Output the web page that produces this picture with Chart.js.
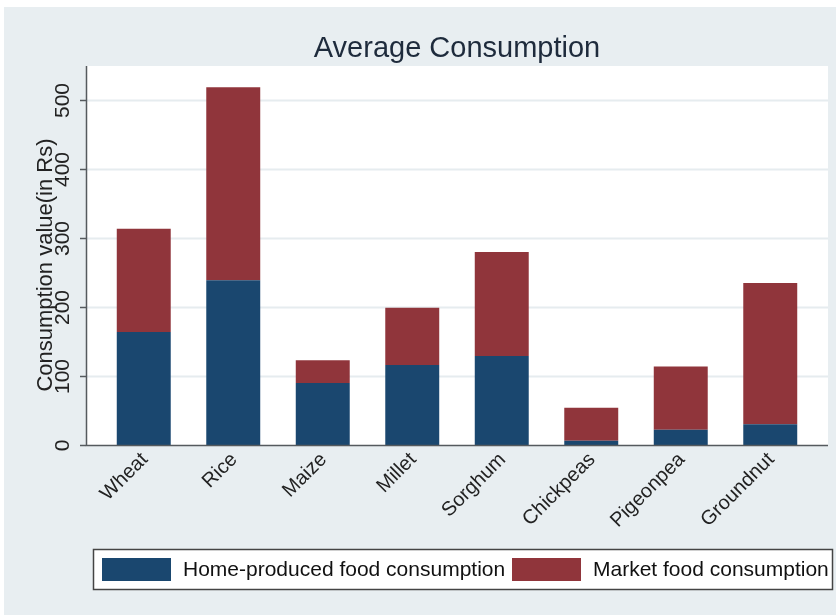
<!DOCTYPE html>
<html>
<head>
<meta charset="utf-8">
<script src="https://cdn.jsdelivr.net/npm/chart.js@4.4.1/dist/chart.umd.min.js"></script>
<style>
    body { margin: 0; background: #ffffff; }
    canvas { display: block; }
</style>
</head>
<body>
<canvas id="grafico" width="836" height="615"></canvas>
<script>
const categorias = ['Wheat', 'Rice', 'Maize', 'Millet', 'Sorghum', 'Chickpeas', 'Pigeonpea', 'Groundnut'];
const casera = [164, 239, 90, 116, 129, 6, 22, 30];
const mercado = [150, 280, 33, 83, 151, 48, 92, 205];
const ticks_y = [0, 100, 200, 300, 400, 500];
const nombres = ['Home-produced food consumption', 'Market food consumption'];
const titulo = 'Average Consumption';
const titulo_y = 'Consumption value(in Rs)';

const AZUL = '#1a476f';
const ROJO = '#90353b';
const FONDO = '#e8eef1';
const FUENTE = '"Liberation Sans", Arial, sans-serif';

const grafico = document.getElementById('grafico');

// everything that is not a bar is painted here, using the chart's own scales
const decorado = {
    id: 'decorado',
    beforeDraw(chart) {
        const ctx = chart.ctx;
        const y = chart.scales.y;
        const area = chart.chartArea;
        const izq = area.left - 13, der = area.right + 13;
        ctx.save();
        ctx.fillStyle = '#ffffff';
        ctx.fillRect(0, 0, chart.width, chart.height);
        ctx.fillStyle = FONDO;
        ctx.fillRect(4, 7, chart.width - 4, chart.height - 7);
        ctx.fillStyle = '#ffffff';
        ctx.fillRect(izq, area.top, der - izq, y.getPixelForValue(0) - area.top);
        ctx.strokeStyle = '#e6ecef';
        ctx.lineWidth = 2;
        ticks_y.forEach(v => {
            if (v === 0) return;
            const py = Math.round(y.getPixelForValue(v)) + 0.5;
            ctx.beginPath();
            ctx.moveTo(izq, py);
            ctx.lineTo(der, py);
            ctx.stroke();
        });
        ctx.restore();
    },
    afterDraw(chart) {
        const ctx = chart.ctx;
        const x = chart.scales.x;
        const y = chart.scales.y;
        const area = chart.chartArea;
        const izq = area.left - 13, der = area.right + 13;
        const base = Math.round(y.getPixelForValue(0)) + 0.5;
        ctx.save();

        // axes
        ctx.strokeStyle = '#555a5e';
        ctx.lineWidth = 1.5;
        ctx.beginPath();
        ctx.moveTo(izq + 0.5, area.top);
        ctx.lineTo(izq + 0.5, base);
        ctx.lineTo(der, base);
        ctx.stroke();

        // y ticks and labels
        ctx.fillStyle = '#222222';
        ctx.font = '21px ' + FUENTE;
        ctx.textAlign = 'center';
        ctx.textBaseline = 'middle';
        ticks_y.forEach(v => {
            const py = Math.round(y.getPixelForValue(v)) + 0.5;
            ctx.beginPath();
            ctx.moveTo(izq - 6, py);
            ctx.lineTo(izq, py);
            ctx.stroke();
            ctx.save();
            ctx.translate(63, py);
            ctx.rotate(-Math.PI / 2);
            ctx.fillText(String(v), 0, 0);
            ctx.restore();
        });

        // y title
        ctx.font = '22px ' + FUENTE;
        ctx.save();
        ctx.translate(46, 265);
        ctx.rotate(-Math.PI / 2);
        ctx.fillText(titulo_y, 0, 0);
        ctx.restore();

        // x labels
        ctx.font = '20px ' + FUENTE;
        ctx.textAlign = 'right';
        categorias.forEach((c, i) => {
            const px = x.getPixelForValue(i);
            ctx.save();
            ctx.translate(px + 1, base + 11);
            ctx.rotate(-Math.PI / 4);
            ctx.fillText(c, 0, 0);
            ctx.restore();
        });

        // title
        ctx.fillStyle = '#1e2b3c';
        ctx.font = '29px ' + FUENTE;
        ctx.textAlign = 'center';
        ctx.textBaseline = 'alphabetic';
        ctx.fillText(titulo, 457, 57);

        // legend
        ctx.fillStyle = '#ffffff';
        ctx.fillRect(93, 549, 739, 40);
        ctx.strokeStyle = '#444444';
        ctx.lineWidth = 1.5;
        ctx.strokeRect(93.5, 549.5, 739, 40);
        const colores = [AZUL, ROJO];
        const pos = [102, 512];
        ctx.font = '21px ' + FUENTE;
        ctx.textAlign = 'left';
        ctx.textBaseline = 'middle';
        nombres.forEach((n, i) => {
            ctx.fillStyle = colores[i];
            ctx.fillRect(pos[i], 558, 69, 23);
            ctx.fillStyle = '#111111';
            ctx.fillText(n, pos[i] + 81, 570);
        });
        ctx.restore();
    }
};

new Chart(grafico, {
    type: 'bar',
    data: {
        labels: categorias,
        datasets: [{
            label: nombres[0],
            data: casera,
            backgroundColor: AZUL,
            borderWidth: 0
        }, {
            label: nombres[1],
            data: mercado,
            backgroundColor: ROJO,
            borderWidth: 0
        }]
    },
    options: {
        responsive: false,
        animation: false,
        devicePixelRatio: 1,
        layout: {
            padding: { left: 99, right: 21, top: 66, bottom: 170 }
        },
        datasets: {
            bar: { categoryPercentage: 1, barPercentage: 0.603 }
        },
        plugins: {
            legend: { display: false },
            tooltip: { enabled: false }
        },
        scales: {
            x: { stacked: true, display: false },
            y: { stacked: true, display: false, min: 0, max: 550 }
        }
    },
    plugins: [decorado]
});
</script>
</body>
</html>
